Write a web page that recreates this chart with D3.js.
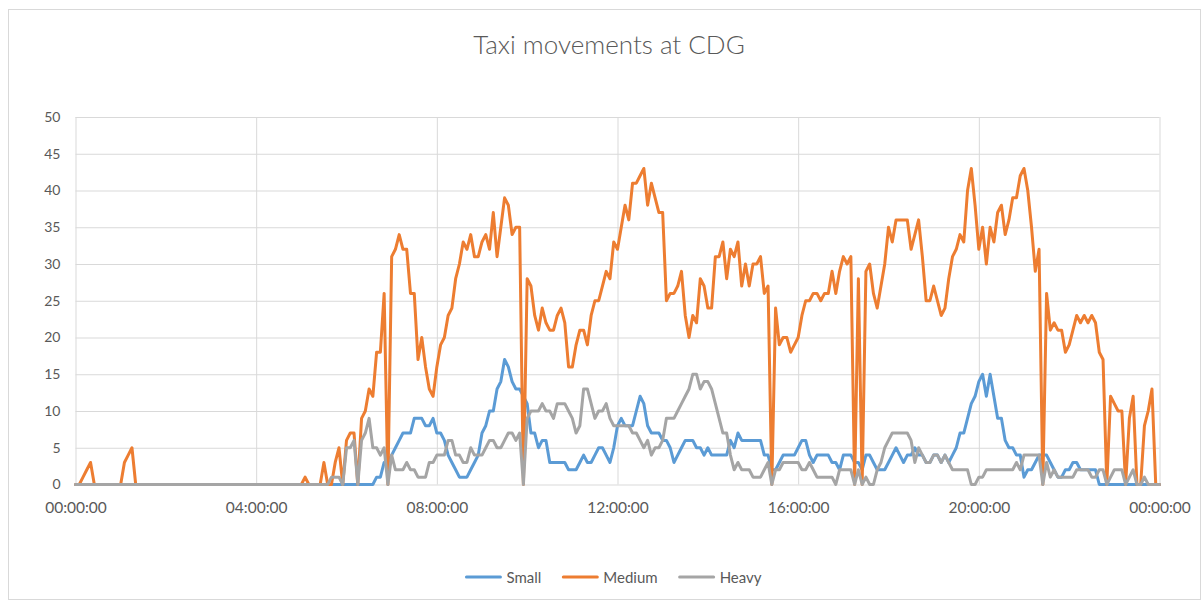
<!DOCTYPE html>
<html><head><meta charset="utf-8">
<script src="https://cdn.jsdelivr.net/npm/d3@7/dist/d3.min.js"></script>
<style>
body{margin:0;background:#fff}
svg{display:block}
text{font-family:Lato,"Open Sans","Liberation Sans",sans-serif;fill:#595959}
</style>
</head><body>
<svg id="chart" width="1201" height="601"></svg>
<script>
// ---- data (5-minute steps from 00:00 to 24:00, 289 points) ----
const seriesNames = ["Small", "Medium", "Heavy"];
const seriesColors = ["#5B9BD5", "#ED7D31", "#A5A5A5"];

const small = [
  0,0,0,0,0,0,0,0,0,0,0,0,
  0,0,0,0,0,0,0,0,0,0,0,0,
  0,0,0,0,0,0,0,0,0,0,0,0,
  0,0,0,0,0,0,0,0,0,0,0,0,
  0,0,0,0,0,0,0,0,0,0,0,0,
  0,0,0,0,0,0,0,0,0,0,0,0,
  0,0,0,0,0,0,0,0,1,1,3,3,
  4,5,6,7,7,7,9,9,9,8,8,9,
  7,7,6,4,3,2,1,1,1,2,3,4,
  7,8,10,10,13,14,17,16,14,13,13,12,
  11,7,7,5,6,6,3,3,3,3,3,2,
  2,2,3,4,3,3,4,5,5,4,3,5,
  8,9,8,8,8,10,12,11,8,7,7,7,
  6,6,5,3,4,5,6,6,6,5,5,4,
  5,4,4,4,4,4,6,5,7,6,6,6,
  6,6,6,4,4,2,2,3,4,4,4,4,
  5,6,6,4,3,4,4,4,4,3,3,2,
  4,4,4,3,3,2,4,4,3,2,2,2,
  3,4,5,4,3,4,4,5,4,4,3,3,
  4,4,3,4,3,4,5,7,7,9,11,12,
  14,15,12,15,12,9,9,6,5,5,4,4,
  1,2,2,3,4,4,4,3,2,1,1,2,
  2,3,3,2,2,2,2,2,0,0,0,0,
  0,0,0,0,0,0,0,0,0,0,0,0,
  0
];

const medium = [
  0,0,1,2,3,0,0,0,0,0,0,0,
  0,3,4,5,0,0,0,0,0,0,0,0,
  0,0,0,0,0,0,0,0,0,0,0,0,
  0,0,0,0,0,0,0,0,0,0,0,0,
  0,0,0,0,0,0,0,0,0,0,0,0,
  0,1,0,0,0,0,3,0,0,3,5,0,
  6,7,7,0,9,10,13,12,18,18,26,0,
  31,32,34,32,32,26,26,17,20,16,13,12,
  16,19,20,23,24,28,30,33,32,34,31,31,
  33,34,32,37,31,35,39,38,34,35,35,0,
  28,27,23,21,24,22,21,21,23,24,22,16,
  16,19,21,21,19,23,25,25,27,29,28,33,
  32,35,38,36,41,41,42,43,38,41,39,37,
  37,25,26,26,27,29,23,20,23,22,28,27,
  24,24,31,31,33,28,32,31,33,27,30,27,
  30,30,31,26,27,0,24,19,20,20,18,19,
  20,23,25,25,26,26,25,26,26,29,26,29,
  31,30,31,0,28,0,29,30,26,24,27,30,
  35,33,36,36,36,36,32,34,36,31,25,25,
  27,25,23,24,28,31,32,34,33,40,43,38,
  32,35,30,35,33,37,38,34,36,39,39,42,
  43,40,35,29,32,0,26,21,22,21,21,18,
  19,21,23,22,23,22,23,22,18,17,0,12,
  11,10,10,0,9,12,0,0,8,10,13,0,
  0
];

const heavy = [
  0,0,0,0,0,0,0,0,0,0,0,0,
  0,0,0,0,0,0,0,0,0,0,0,0,
  0,0,0,0,0,0,0,0,0,0,0,0,
  0,0,0,0,0,0,0,0,0,0,0,0,
  0,0,0,0,0,0,0,0,0,0,0,0,
  0,0,0,0,0,0,0,0,1,1,1,0,
  5,5,6,0,6,7,9,5,5,4,5,0,
  4,2,2,2,3,2,2,1,1,1,3,3,
  4,4,4,6,6,4,4,3,3,5,4,4,
  4,5,6,6,5,5,6,7,7,6,7,0,
  9,10,10,10,11,10,10,9,11,11,11,10,
  9,7,8,13,13,11,9,10,10,11,9,8,
  8,8,8,8,7,7,6,5,6,4,5,5,
  6,9,9,9,10,11,12,13,15,15,13,14,
  14,13,11,9,7,7,4,2,3,2,2,2,
  1,1,1,2,3,0,2,2,3,3,3,3,
  3,2,2,3,2,1,1,1,1,1,0,2,
  2,2,2,0,2,0,1,0,0,2,3,5,
  6,7,7,7,7,7,6,3,5,4,3,3,
  4,4,3,4,3,2,2,2,2,2,0,0,
  1,1,2,2,2,2,2,2,2,2,3,2,
  4,4,4,4,4,0,3,1,2,1,1,1,
  1,1,2,2,2,2,1,1,2,2,0,1,
  2,2,2,0,1,2,0,0,1,0,0,0,
  0
];

const stepMinutes = 5;
const xTickMinutes = [0, 240, 480, 720, 960, 1200, 1440];
const xTickLabels = ["00:00:00", "04:00:00", "08:00:00", "12:00:00", "16:00:00", "20:00:00", "00:00:00"];
const yTicks = [0, 5, 10, 15, 20, 25, 30, 35, 40, 45, 50];
const titleText = "Taxi movements at CDG";

// ---- drawing ----
const svg = d3.select("#chart");
const plot = {left: 75.5, right: 1159.5, top: 117, bottom: 484.5};

const x = d3.scaleLinear().domain([0, 1440]).range([plot.left, plot.right]);
const y = d3.scaleLinear().domain([0, 50]).range([plot.bottom, plot.top]);

// chart area border
svg.append("rect").attr("x", 8.5).attr("y", 9.5).attr("width", 1192).attr("height", 590)
  .attr("fill", "#fff").attr("stroke", "#D9D9D9").attr("stroke-width", 1);

// title
svg.append("text").attr("x", 609).attr("y", 54).attr("text-anchor", "middle")
  .style("font-size", "26px").style("font-weight", 300).text(titleText);

// horizontal gridlines + y labels via axis
const yAxis = d3.axisLeft(y).tickValues(yTicks).tickSize(-(plot.right - plot.left)).tickPadding(15);
const gy = svg.append("g").attr("transform", `translate(${plot.left},0)`).call(yAxis);
gy.select(".domain").remove();
gy.selectAll(".tick line").attr("stroke", "#D9D9D9").attr("stroke-width", 1);
gy.selectAll(".tick text").style("font-size", "14px").style("font-family", "Lato,'Open Sans',sans-serif").attr("fill", "#595959");

// vertical gridlines + x labels via axis
const xAxis = d3.axisBottom(x).tickValues(xTickMinutes)
  .tickFormat((d, i) => xTickLabels[i])
  .tickSize(-(plot.bottom - plot.top)).tickPadding(17);
const gx = svg.append("g").attr("transform", `translate(0,${plot.bottom})`).call(xAxis);
gx.select(".domain").remove();
gx.selectAll(".tick line").attr("stroke", "#D9D9D9").attr("stroke-width", 1);
gx.selectAll(".tick text").style("font-size", "15.5px").style("font-family", "Lato,'Open Sans',sans-serif").attr("fill", "#595959");

// series lines
const allSeries = [small, medium, heavy];
const line = d3.line()
  .x((d, i) => x(i * stepMinutes))
  .y(d => y(d));

allSeries.forEach((vals, k) => {
  svg.append("path").datum(vals)
    .attr("fill", "none")
    .attr("stroke", seriesColors[k])
    .attr("stroke-width", 3)
    .attr("stroke-linejoin", "round")
    .attr("stroke-linecap", "round")
    .attr("d", line);
});

// legend
const legend = svg.append("g");
let lx = 0;
seriesNames.forEach((name, k) => {
  const g = legend.append("g").attr("transform", `translate(${lx},0)`);
  g.append("line").attr("x1", 0).attr("x2", 34).attr("y1", 0).attr("y2", 0)
    .attr("stroke", seriesColors[k]).attr("stroke-width", 3).attr("stroke-linecap", "round");
  const t = g.append("text").attr("x", 40).attr("y", 5.5).style("font-size", "15px").text(name);
  lx += 40 + t.node().getComputedTextLength() + 22;
});
const legendWidth = lx - 22;
legend.attr("transform", `translate(${614 - legendWidth / 2},577)`);
</script>
</body></html>
